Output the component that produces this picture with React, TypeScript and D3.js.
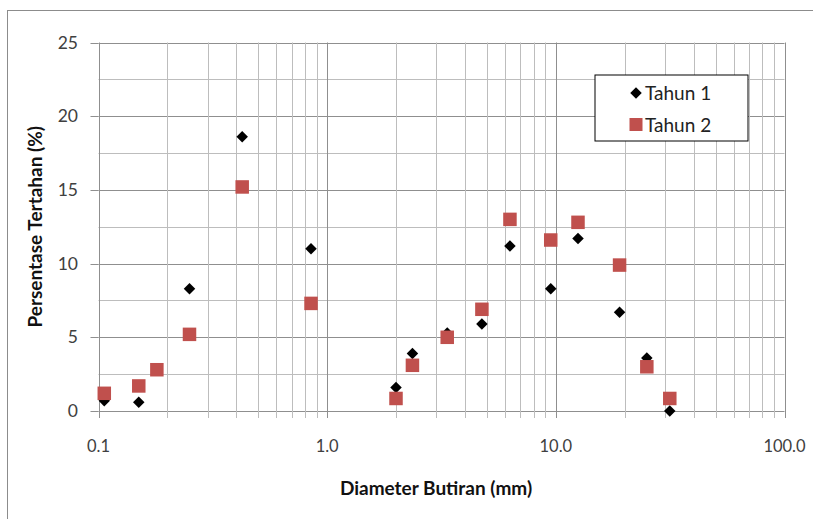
import React from 'react';
import * as d3 from 'd3';

// sieve sizes (mm) and retained percentages
const sizesTahun1 = [0.106, 0.15, 0.25, 0.425, 0.85, 2.0, 2.36, 3.35, 4.75, 6.3, 9.5, 12.5, 19.0, 25.0, 31.5];
const tahun1 = [0.7, 0.6, 8.3, 18.6, 11.0, 1.6, 3.9, 5.3, 5.9, 11.2, 8.3, 11.7, 6.7, 3.6, 0.0];

const sizesTahun2 = [0.106, 0.15, 0.18, 0.25, 0.425, 0.85, 2.0, 2.36, 3.35, 4.75, 6.3, 9.5, 12.5, 19.0, 25.0, 31.5];
const tahun2 = [1.2, 1.7, 2.8, 5.2, 15.2, 7.3, 0.85, 3.1, 5.0, 6.9, 13.0, 11.6, 12.8, 9.9, 3.0, 0.85];

const xTickValues = [0.1, 1, 10, 100];
const xTickLabels = ['0.1', '1.0', '10.0', '100.0'];
const yTickValues = [0, 5, 10, 15, 20, 25];

const W = 813;
const H = 519;
const plot = { left: 98.5, right: 784.5, top: 42.5, bottom: 411 };
const font = 'Lato, "Open Sans", sans-serif';
const red = '#C0504D';

export default function App() {
  const x = d3.scaleLog().domain([0.1, 100]).range([plot.left, plot.right]);
  const y = d3.scaleLinear().domain([0, 25]).range([plot.bottom, plot.top]);

  // minor log positions 2..9 in each decade
  const minorX: number[] = [];
  [0.1, 1, 10].forEach((d) => {
    for (let k = 2; k <= 9; k++) minorX.push(d * k);
  });
  const hLines = d3.range(0, 25.01, 2.5);

  const diamond = d3.symbol().type(d3.symbolDiamond2).size(84)();
  const sq = 13.5;

  return (
    <svg
      width={W}
      height={H}
      style={{ position: 'absolute', left: 0, top: 0, background: '#fff' }}
    >
      <rect x={7.5} y={10.5} width={W + 20} height={H + 20} fill="#fff" stroke="#8c8c8c" />

      {/* horizontal gridlines */}
      {hLines.map((v) => (
        <line
          key={'h' + v}
          x1={plot.left}
          x2={plot.right}
          y1={Math.round(y(v)) + 0.5}
          y2={Math.round(y(v)) + 0.5}
          stroke={v % 5 === 0 ? '#8f8f8f' : '#bdbdbd'}
        />
      ))}

      {/* vertical gridlines */}
      {minorX.map((v) => (
        <line
          key={'m' + v}
          x1={Math.round(x(v)) + 0.5}
          x2={Math.round(x(v)) + 0.5}
          y1={plot.top}
          y2={plot.bottom + 7}
          stroke="#bdbdbd"
        />
      ))}
      {xTickValues.map((v) => (
        <line
          key={'M' + v}
          x1={Math.round(x(v)) + 0.5}
          x2={Math.round(x(v)) + 0.5}
          y1={plot.top}
          y2={plot.bottom + 7}
          stroke="#8f8f8f"
        />
      ))}

      {/* y axis ticks and labels */}
      {yTickValues.map((v) => (
        <g key={'y' + v}>
          <line x1={plot.left - 8} x2={plot.left} y1={Math.round(y(v)) + 0.5} y2={Math.round(y(v)) + 0.5} stroke="#8f8f8f" />
          <text
            x={78}
            y={y(v)}
            dy="0.35em"
            textAnchor="end"
            fontFamily={font}
            fontSize={17.5}
            fill="#404040"
          >
            {v}
          </text>
        </g>
      ))}

      {/* x axis labels */}
      {xTickValues.map((v, i) => (
        <text
          key={'xl' + v}
          x={x(v)}
          y={452}
          textAnchor="middle"
          fontFamily={font}
          fontSize={16.5}
          fill="#404040"
        >
          {xTickLabels[i]}
        </text>
      ))}

      {/* axis titles */}
      <text x={436} y={495} textAnchor="middle" fontFamily={font} fontSize={19} fontWeight="bold" fill="#111">
        Diameter Butiran (mm)
      </text>
      <text
        transform={`translate(42,${(plot.top + plot.bottom) / 2}) rotate(-90)`}
        textAnchor="middle"
        fontFamily={font}
        fontSize={19}
        fontWeight="bold"
        fill="#111"
      >
        Persentase Tertahan (%)
      </text>

      {/* series */}
      {sizesTahun1.map((s, i) => (
        <path key={'t1' + i} d={diamond || ''} transform={`translate(${x(s)},${y(tahun1[i])})`} fill="#000" />
      ))}
      {sizesTahun2.map((s, i) => (
        <rect key={'t2' + i} x={x(s) - sq / 2} y={y(tahun2[i]) - sq / 2} width={sq} height={sq} fill={red} />
      ))}

      {/* legend */}
      <rect x={595} y={75} width={153} height={66} fill="#fff" stroke="#000" />
      <path d={diamond || ''} transform="translate(636,93)" fill="#000" />
      <text x={645} y={100} fontFamily={font} fontSize={19} fill="#222">
        Tahun 1
      </text>
      <rect x={629.5} y={118} width={13} height={13} fill={red} />
      <text x={645} y={132} fontFamily={font} fontSize={19} fill="#222">
        Tahun 2
      </text>
    </svg>
  );
}
